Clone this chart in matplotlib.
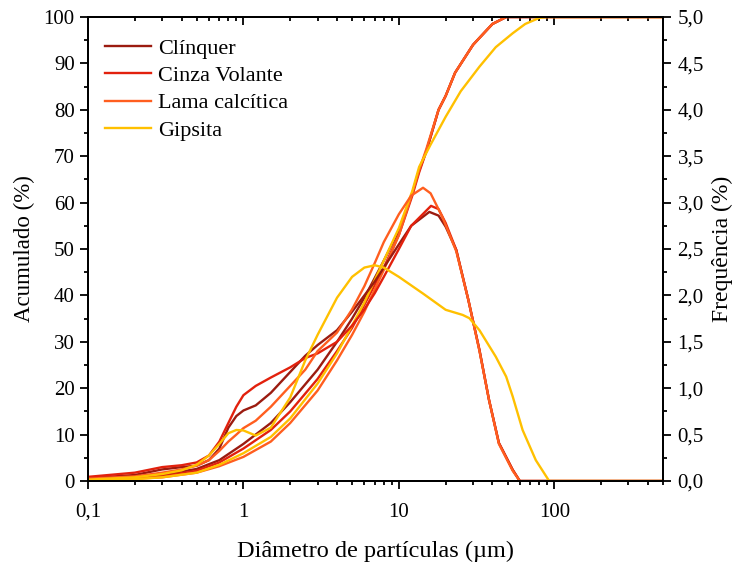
import numpy as np
import matplotlib
matplotlib.use("Agg")
import matplotlib.pyplot as plt
from matplotlib.ticker import FixedLocator, LogLocator, NullFormatter, MultipleLocator, FuncFormatter

plt.rcParams['font.family'] = ['Liberation Serif', 'DejaVu Serif']

series_names = ["Clínquer", "Cinza Volante", "Lama calcítica", "Gipsita"]
series_colors = ["#9b1b10", "#e2210d", "#ff5e1f", "#ffc000"]

# Cumulative passing (%) vs particle diameter (µm)
cum_clinquer_d = [0.1, 0.2, 0.3, 0.5, 0.7, 1.0, 1.5, 2.0, 3.0, 4.0, 5.0, 6.0, 8.0, 10.0, 12.2, 13.5, 15.0, 18.0, 20.0, 23.0, 30.0, 33.0, 40.0, 49.0, 500.0]
cum_clinquer_v = [0.4, 0.8, 1.3, 2.6, 4.5, 8.0, 12.5, 17.0, 24.0, 30.0, 35.0, 39.5, 47.5, 54.0, 62.0, 67.0, 71.0, 80.0, 83.0, 88.0, 94.0, 95.5, 98.5, 100.0, 100.0]

cum_cinza_d = [0.1, 0.2, 0.3, 0.5, 0.7, 1.0, 1.5, 2.0, 3.0, 4.0, 5.0, 6.0, 8.0, 10.0, 12.2, 13.5, 15.0, 18.0, 20.0, 23.0, 30.0, 33.0, 40.0, 49.0, 500.0]
cum_cinza_v = [0.3, 0.6, 1.0, 2.2, 4.0, 7.0, 11.0, 15.0, 22.0, 28.0, 33.0, 38.0, 46.0, 53.0, 61.5, 66.5, 71.0, 80.0, 83.0, 88.0, 94.0, 95.5, 98.5, 100.0, 100.0]

cum_lama_d = [0.1, 0.2, 0.3, 0.5, 0.7, 1.0, 1.5, 2.0, 3.0, 4.0, 5.0, 6.0, 8.0, 10.0, 12.2, 13.5, 15.0, 18.0, 20.0, 23.0, 30.0, 33.0, 40.0, 49.0, 500.0]
cum_lama_v = [0.2, 0.5, 0.8, 1.8, 3.2, 5.2, 8.5, 12.5, 19.5, 26.0, 31.5, 36.5, 45.5, 53.0, 62.0, 67.0, 71.5, 80.0, 83.0, 88.0, 94.0, 95.5, 98.5, 100.0, 100.0]

cum_gipsita_d = [0.1, 0.2, 0.3, 0.5, 0.7, 1.0, 1.5, 2.0, 3.0, 4.0, 5.0, 6.0, 8.0, 10.0, 12.2, 13.5, 16.0, 20.0, 25.0, 33.0, 42.0, 54.0, 65.0, 80.0, 90.0, 500.0]
cum_gipsita_v = [0.2, 0.4, 0.8, 1.8, 3.5, 6.0, 9.5, 13.5, 21.0, 27.5, 33.5, 38.5, 47.5, 54.5, 62.5, 67.7, 72.5, 78.5, 84.0, 89.3, 93.5, 96.5, 98.5, 99.8, 100.0, 100.0]

# Frequency (%) vs particle diameter (µm)
freq_clinquer_d = [0.1, 0.2, 0.3, 0.4, 0.5, 0.6, 0.7, 0.8, 0.9, 1.0, 1.2, 1.5, 2.0, 2.5, 3.0, 4.0, 5.0, 6.0, 7.0, 8.0, 10.0, 12.0, 15.7, 18.0, 20.0, 23.4, 28.0, 33.0, 38.0, 44.0, 54.0, 60.0, 500.0]
freq_clinquer_v = [0.03, 0.065, 0.125, 0.15, 0.165, 0.225, 0.35, 0.575, 0.70, 0.76, 0.815, 0.95, 1.175, 1.35, 1.465, 1.625, 1.825, 2.0, 2.15, 2.30, 2.55, 2.75, 2.90, 2.86, 2.74, 2.49, 1.95, 1.41, 0.875, 0.41, 0.12, 0.0, 0.0]

freq_cinza_d = [0.1, 0.2, 0.3, 0.4, 0.5, 0.6, 0.7, 0.8, 0.9, 1.0, 1.2, 1.5, 2.0, 2.5, 3.0, 4.0, 5.0, 6.0, 7.0, 8.0, 10.0, 12.0, 16.1, 18.0, 20.0, 23.4, 28.0, 33.0, 38.0, 44.0, 54.0, 60.0, 500.0]
freq_cinza_v = [0.045, 0.09, 0.15, 0.17, 0.20, 0.275, 0.425, 0.625, 0.80, 0.925, 1.025, 1.115, 1.225, 1.325, 1.375, 1.50, 1.675, 1.85, 2.025, 2.20, 2.50, 2.75, 2.965, 2.93, 2.78, 2.49, 1.95, 1.41, 0.875, 0.41, 0.12, 0.0, 0.0]

freq_lama_d = [0.1, 0.2, 0.3, 0.4, 0.5, 0.6, 0.7, 0.8, 0.9, 1.0, 1.2, 1.5, 2.0, 2.5, 3.0, 4.0, 5.0, 6.0, 7.0, 8.0, 10.0, 12.0, 14.3, 16.0, 19.0, 23.4, 28.0, 33.0, 38.0, 44.0, 54.0, 60.0, 500.0]
freq_lama_v = [0.025, 0.05, 0.09, 0.125, 0.165, 0.225, 0.325, 0.425, 0.50, 0.57, 0.65, 0.80, 1.025, 1.20, 1.40, 1.60, 1.85, 2.10, 2.35, 2.575, 2.875, 3.075, 3.16, 3.10, 2.85, 2.475, 1.95, 1.40, 0.875, 0.40, 0.11, 0.0, 0.0]

freq_gipsita_d = [0.1, 0.2, 0.3, 0.4, 0.5, 0.6, 0.7, 0.8, 0.9, 1.0, 1.2, 1.5, 2.0, 2.5, 3.0, 4.0, 5.0, 6.0, 7.0, 8.0, 10.0, 14.3, 20.0, 25.7, 28.4, 33.0, 42.0, 49.0, 54.0, 62.5, 76.0, 92.7, 500.0]
freq_gipsita_v = [0.015, 0.04, 0.075, 0.115, 0.175, 0.275, 0.40, 0.515, 0.55, 0.545, 0.49, 0.575, 0.90, 1.30, 1.575, 1.975, 2.20, 2.30, 2.325, 2.30, 2.20, 2.02, 1.845, 1.79, 1.755, 1.625, 1.34, 1.125, 0.91, 0.55, 0.225, 0.0, 0.0]

cum_series = [(cum_clinquer_d, cum_clinquer_v), (cum_cinza_d, cum_cinza_v),
              (cum_lama_d, cum_lama_v), (cum_gipsita_d, cum_gipsita_v)]
freq_series = [(freq_clinquer_d, freq_clinquer_v), (freq_cinza_d, freq_cinza_v),
               (freq_lama_d, freq_lama_v), (freq_gipsita_d, freq_gipsita_v)]

fig = plt.figure(figsize=(7.35, 5.63), dpi=100)
ax = fig.add_axes([0.1197, 0.1456, 0.7823, 0.8242])
ax2 = ax.twinx()

lw = 1.7
handles = []
for name, color, (cd, cv), (fd, fv) in zip(series_names, series_colors, cum_series, freq_series):
    h, = ax.plot(cd, cv, color=color, lw=lw, label=name, solid_joinstyle='round')
    ax2.plot(fd, fv, color=color, lw=lw, solid_joinstyle='round')
    handles.append(h)

ax.set_xscale('log')
ax.set_xlim(0.1, 500)
ax.set_ylim(0, 100)
ax2.set_ylim(0, 5.0)

def comma(v, nd=0):
    return f"{v:.{nd}f}".replace('.', ',')

ax.xaxis.set_major_locator(FixedLocator([0.1, 1, 10, 100]))
ax.xaxis.set_major_formatter(FuncFormatter(lambda v, p: {0.1: "0,1", 1: "1", 10: "10", 100: "100"}.get(round(v, 3), "")))
ax.xaxis.set_minor_locator(LogLocator(base=10, subs=np.arange(2, 10), numticks=20))
ax.xaxis.set_minor_formatter(NullFormatter())

ax.yaxis.set_major_locator(MultipleLocator(10))
ax.yaxis.set_minor_locator(MultipleLocator(5))
ax2.yaxis.set_major_locator(MultipleLocator(0.5))
ax2.yaxis.set_minor_locator(MultipleLocator(0.25))
ax2.yaxis.set_major_formatter(FuncFormatter(lambda v, p: comma(v, nd=1)))

fs_tick = 15
tw = 1.3
ax.tick_params(axis='x', which='major', direction='out', length=5.5, width=tw, labelsize=fs_tick, pad=10)
ax.tick_params(axis='y', which='major', direction='out', length=5.5, width=tw, labelsize=fs_tick, pad=4)
ax.tick_params(axis='both', which='minor', direction='out', length=3.2, width=tw)
ax2.tick_params(axis='y', which='major', direction='out', length=5.5, width=tw, labelsize=fs_tick, pad=5)
ax2.tick_params(axis='y', which='minor', direction='out', length=3.2, width=tw)

# mirrored top ticks pointing into the plot
top = ax.secondary_xaxis('top')
top.xaxis.set_major_locator(FixedLocator([0.1, 1, 10, 100]))
top.xaxis.set_minor_locator(LogLocator(base=10, subs=np.arange(2, 10), numticks=20))
top.xaxis.set_major_formatter(NullFormatter())
top.xaxis.set_minor_formatter(NullFormatter())
top.tick_params(which='major', direction='in', length=5.5, width=tw)
top.tick_params(which='minor', direction='in', length=3.2, width=tw)
top.spines['top'].set_linewidth(1.4)

for a in (ax, ax2):
    for s in a.spines.values():
        s.set_linewidth(1.4)

ax.set_xlabel("Diâmetro de partículas (µm)", fontsize=17.5, labelpad=14)
ax.set_ylabel("Acumulado (%)", fontsize=16.5, labelpad=6)
ax2.set_ylabel("Frequência (%)", fontsize=17, labelpad=6, rotation=90)

leg = ax.legend(handles=handles, loc='upper left', frameon=False, fontsize=16,
                handlelength=2.1, handletextpad=0.3, labelspacing=0.3,
                bbox_to_anchor=(0.0, 0.99), borderaxespad=0.55, borderpad=0.2)

fig.savefig("out.png", dpi=100)
